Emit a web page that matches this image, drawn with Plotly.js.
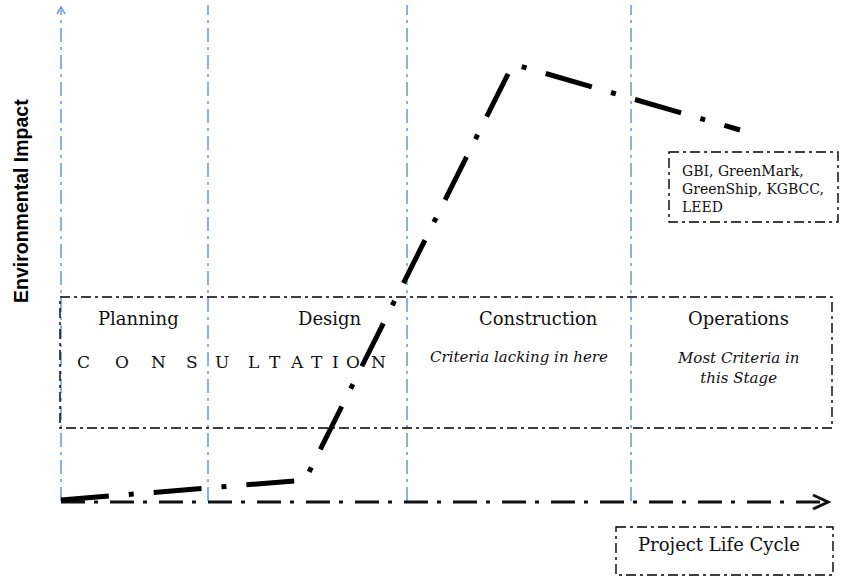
<!DOCTYPE html>
<html>
<head>
<meta charset="utf-8">
<script src="https://cdn.plot.ly/plotly-3.0.1.min.js"></script>
<style>html,body{margin:0;padding:0;background:#fff;}#chart{width:866px;height:576px;}</style>
</head>
<body>
<div id="chart"></div>
<script>
// ---- data ----
const stages = ["Planning", "Design", "Construction", "Operations"];
const stageStarts = [61, 208, 407, 631];           // life-cycle position where each stage begins
const cycleX = [61, 305, 513, 740];                 // project life cycle position
const impactY = [76, 96, 512, 446];                 // environmental impact
const stageNotes = ["", "", "<i>Criteria lacking in here</i>", "<i>Most Criteria in<br>this Stage</i>"];
const ratingTools = ["GBI, GreenMark,", "GreenShip, KGBCC,", "LEED"];
const consultation = "CONSULTATION";
const xTitle = "Project Life Cycle";
const yTitle = "Environmental Impact";

// ---- layout helpers ----
const W = 866, H = 576;
const Y = py => H - py;
const serif = "DejaVu Serif";
const blue = "#5b8fd6";
const boxLine = {color: "#000", width: 1.4, dash: "10px,4px,3px,4px"};

const shapes = [];
// vertical stage boundary lines (blue dash-dot)
stageStarts.forEach((sx, i) => {
  shapes.push({type: "line", xref: "x", yref: "y", x0: sx, x1: sx,
    y0: Y(501), y1: Y(i === 0 ? 10 : 5), layer: "below",
    line: {color: blue, width: 1.4, dash: "14px,5px,3px,5px"}});
});
// vertical axis arrowhead
shapes.push({type: "path", path: `M ${61-4} ${Y(14)} L 61 ${Y(7)} L ${61+4} ${Y(14)}`,
  line: {color: blue, width: 1.5}, layer: "below"});
// horizontal axis
shapes.push({type: "line", x0: 61, x1: 826, y0: Y(502), y1: Y(502), layer: "below",
  line: {color: "#111", width: 3, dash: "24px,9px,4px,12px"}});
shapes.push({type: "path", path: `M 813 ${Y(495)} L 828 ${Y(502)} L 813 ${Y(509)}`,
  line: {color: "#111", width: 3}, layer: "below"});
// stage box
shapes.push({type: "rect", x0: 60, x1: 832, y0: Y(297), y1: Y(428), layer: "below", line: boxLine});
// rating tools box
shapes.push({type: "rect", x0: 669, x1: 838, y0: Y(152), y1: Y(222), layer: "below",
  fillcolor: "#fff", line: boxLine});
// x title box
shapes.push({type: "rect", x0: 616, x1: 833, y0: Y(527), y1: Y(575), layer: "below", line: boxLine});

const annotations = [];
const stageLabelX = [138, 330, 538, 738];
stages.forEach((s, i) => {
  annotations.push({x: stageLabelX[i], y: Y(318), text: s, showarrow: false,
    font: {family: serif, size: 18, color: "#111"}});
});
const noteX = [0, 0, 519, 738];
stageNotes.forEach((n, i) => {
  if (!n) return;
  annotations.push({x: noteX[i], y: Y(i === 3 ? 368 : 357), text: n, showarrow: false,
    font: {family: serif, size: 15, color: "#111"}});
});
// CONSULTATION spread letters
const letterX = [83, 122, 158, 192, 222, 253, 275, 297, 317, 335, 353, 378];
consultation.split("").forEach((c, i) => {
  annotations.push({x: letterX[i], y: Y(362), text: c, showarrow: false,
    font: {family: serif, size: 17, color: "#111"}});
});
annotations.push({x: 680, y: Y(189), xanchor: "left", align: "left",
  text: ratingTools.join("<br>"), showarrow: false,
  font: {family: serif, size: 14, color: "#111"}});
annotations.push({x: 719, y: Y(544), text: xTitle, showarrow: false,
  font: {family: serif, size: 18, color: "#111"}});
annotations.push({x: 21, y: Y(201), text: yTitle, textangle: -90,
  showarrow: false, font: {family: "Liberation Sans", size: 19.5, weight: "bold", color: "#000"}});

const trace = {
  x: cycleX, y: impactY, type: "scatter", mode: "lines",
  line: {color: "#000", width: 5, dash: "48px,20px,5px,20px"},
  hoverinfo: "skip", showlegend: false
};

const layout = {
  width: W, height: H,
  margin: {l: 0, r: 0, t: 0, b: 0},
  paper_bgcolor: "#fff", plot_bgcolor: "#fff",
  xaxis: {range: [0, W], visible: false, fixedrange: true},
  yaxis: {range: [0, H], visible: false, fixedrange: true},
  shapes: shapes, annotations: annotations, showlegend: false
};

Plotly.newPlot("chart", [trace], layout, {staticPlot: true, displayModeBar: false});
</script>
</body>
</html>
